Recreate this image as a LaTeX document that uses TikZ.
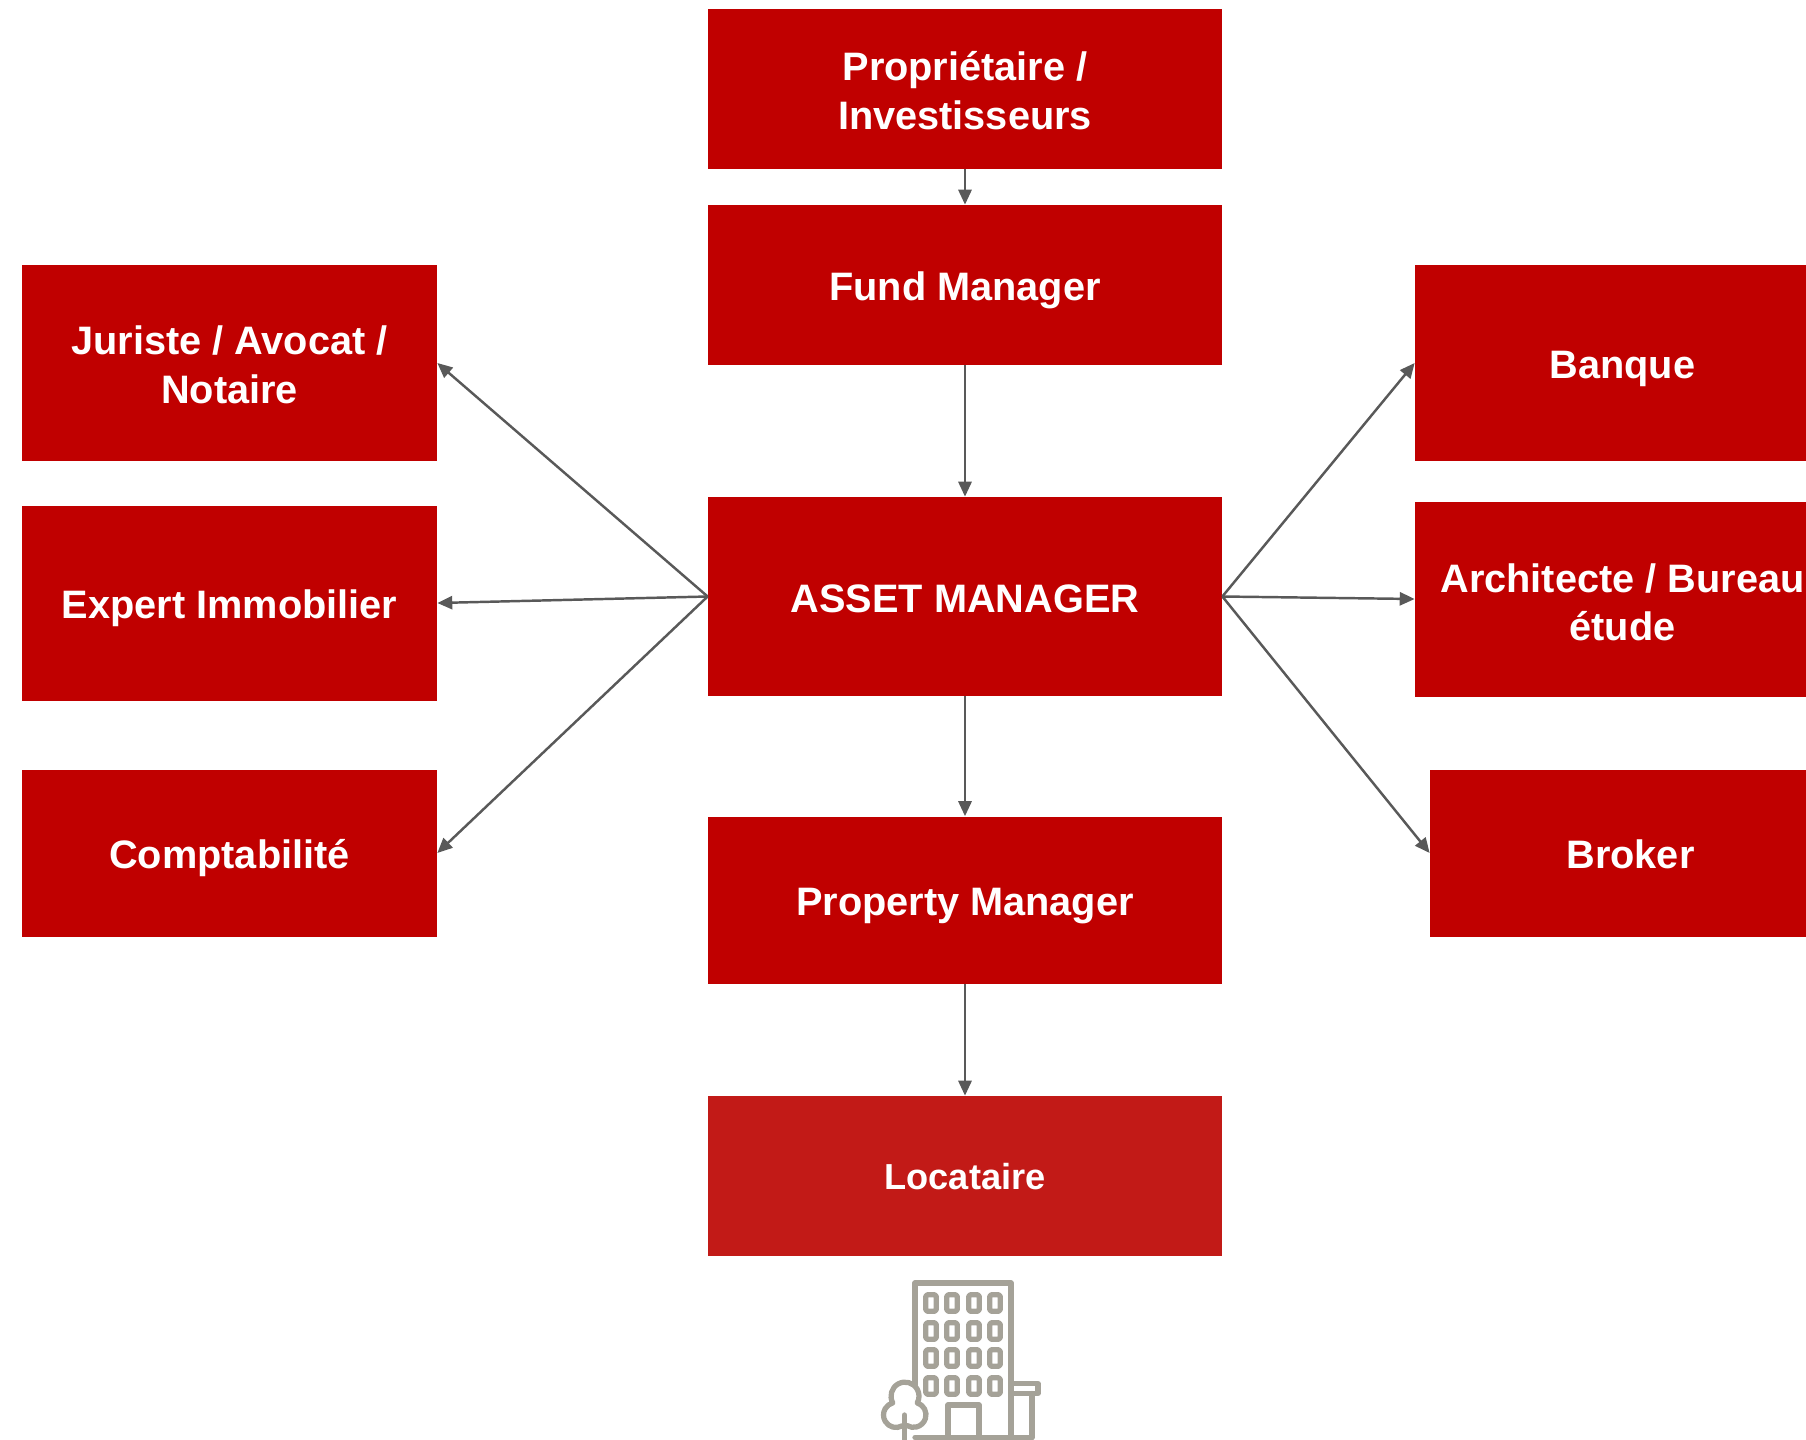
\documentclass[tikz,border=0pt]{standalone}
\usepackage{fontspec}
\setmainfont{Liberation Sans}
\usepackage{xcolor}
\definecolor{boxred}{HTML}{C00000}
\definecolor{lightred}{HTML}{C21A17}
\definecolor{arrowgrey}{HTML}{595959}
\definecolor{iconstone}{HTML}{A5A298}
\usetikzlibrary{arrows.meta}
\tikzset{
    redbox/.style={fill=boxred, text=white, inner sep=0pt, align=center, font=\fontsize{22.6}{27.8}\selectfont\bfseries},
    midbox/.style={redbox, minimum width=514*0.02cm},
    sidebox/.style={redbox, minimum width=415*0.02cm},
    oneline/.style={text height=18.2pt, text depth=0pt},
    twolines/.style={text height=45.8pt, text depth=0pt},
    link/.style={draw=arrowgrey, line width=1.4pt, -{Triangle[length=8.5pt,width=7.5pt]}},
    icon/.style={draw=iconstone, line width=3pt, line join=round, line cap=round}
}

\begin{document}
\begin{tikzpicture}[x=0.02cm, y=-0.02cm]
    \useasboundingbox (0,0) rectangle (1806,1440);
    \clip (0,0) rectangle (1806,1440);

    % Centre column
    \node[midbox, twolines, minimum height=160*0.02cm] (owner) at (965,89) {Propriétaire /\\Investisseurs};
    \node[midbox, oneline, minimum height=160*0.02cm] (fund) at (965,285) {Fund Manager};
    \node[midbox, oneline, minimum height=199*0.02cm] (asset) at (965,596.5) {ASSET MANAGER};
    \node[midbox, oneline, minimum height=167*0.02cm] (property) at (965,900) {Property Manager};
    \node[midbox, oneline, text height=15.6pt, minimum height=160*0.02cm, fill=lightred, font=\fontsize{20.6}{25}\selectfont\bfseries] (tenant) at (965,1176) {Locataire};

    % Left column
    \node[sidebox, twolines, minimum height=196*0.02cm] (lawyer) at (229.5,363) {Juriste / Avocat /\\Notaire};
    \node[sidebox, oneline, minimum height=195*0.02cm] (expert) at (229.5,603) {Expert Immobilier};
    \node[sidebox, oneline, minimum height=167*0.02cm] (accounting) at (229.5,853) {Comptabilité};

    % Right column
    \node[sidebox, oneline, minimum height=196*0.02cm] (bank) at (1622.5,363) {Banque};
    \node[sidebox, twolines, text height=47.7pt, minimum height=195*0.02cm] (architect) at (1622.5,599) {Architecte / Bureau\\étude};
    \node[sidebox, oneline, minimum width=401*0.02cm, minimum height=167*0.02cm] (broker) at (1630.5,853) {Broker};

    % Arrows
    \foreach \from/\to in {owner/fund, fund/asset, asset/property, property/tenant}
        \draw[link] (\from) -- (\to);
    \foreach \to in {lawyer, expert, accounting}
        \draw[link] (asset.west) -- (\to.east);
    \foreach \to in {bank, architect, broker}
        \draw[link] (asset.east) -- (\to.west);

    % Building
    \draw[icon] (915,1385) -- (915,1283) -- (1011,1283) -- (1011,1437.5);
    \draw[icon] (915,1437.5) -- (1032,1437.5);
    \foreach \x in {931,952,974,995}
        \foreach \y in {1303,1331,1358,1386}
            \draw[icon, rounded corners=1pt] (\x-5.3,\y-8.3) rectangle (\x+5.3,\y+8.3);
    \draw[icon] (948,1437.5) -- (948,1405) -- (979,1405) -- (979,1437.5);
    \draw[icon] (1013,1383.5) -- (1038,1383.5) -- (1038,1393.5) -- (1013,1393.5);
    \draw[icon] (1032,1393.5) -- (1032,1437.5);
    % Tree
    \draw[icon] (902.25,1425.8) arc[start angle=60, end angle=255, radius=12.5]
        arc[start angle=151, end angle=389, radius=14]
        arc[start angle=287.5, end angle=480, radius=12.5];
    \draw[icon] (904.5,1415) -- (904.5,1440);
\end{tikzpicture}
\end{document}
